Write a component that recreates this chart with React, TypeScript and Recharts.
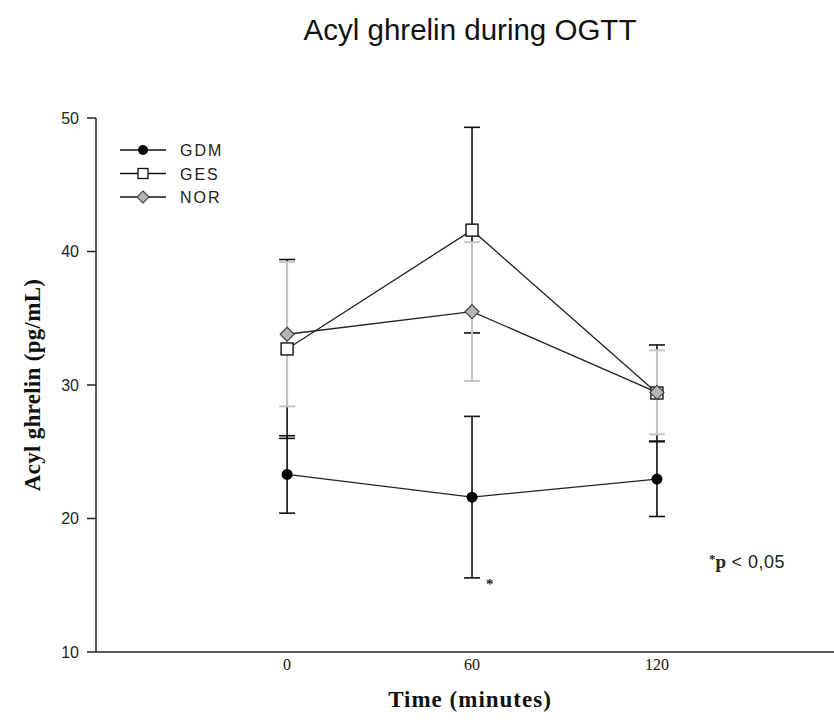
import React from "react";
import { ComposedChart, ErrorBar, Legend, Line, XAxis, YAxis } from "recharts";

const times = [0, 60, 120];
const gdmMean = [23.3, 21.6, 22.95];
const gdmErr = [2.9, 6.05, 2.8];
const gesMean = [32.7, 41.6, 29.4];
const gesErr = [6.7, 7.7, 3.6];
const norMean = [33.8, 35.5, 29.45];
const norErr = [5.4, 5.2, 3.15];
const xTicks = [0, 60, 120];
const yTicks = [10, 20, 30, 40, 50];
const groups = ["GDM", "GES", "NOR"];

const data = times.map((t, i) => ({
  t,
  gdm: gdmMean[i],
  gdmE: gdmErr[i],
  ges: gesMean[i],
  gesE: gesErr[i],
  nor: norMean[i],
  norE: norErr[i]
}));

const sans = "'Liberation Sans', Arial, sans-serif";
const serif = "'Liberation Serif', 'Times New Roman', serif";

function CircleDot(props: any) {
  const { cx, cy } = props;
  if (cx == null || cy == null) return null;
  return <circle key={props.key} cx={cx} cy={cy} r={5.5} fill="#000" />;
}

function SquareDot(props: any) {
  const { cx, cy } = props;
  if (cx == null || cy == null) return null;
  return <rect key={props.key} x={cx - 6} y={cy - 6} width={12} height={12} fill="#fff" stroke="#111" strokeWidth={1.4} />;
}

function DiamondDot(props: any) {
  const { cx, cy } = props;
  if (cx == null || cy == null) return null;
  const r = 7;
  return <polygon key={props.key} points={`${cx},${cy - r} ${cx + r},${cy} ${cx},${cy + r} ${cx - r},${cy}`} fill="#b5b5b5" stroke="#444" strokeWidth={1.2} />;
}

function LegendBox() {
  const marks = [
    (y: number) => <circle cx={23} cy={y} r={5} fill="#000" />,
    (y: number) => <rect x={18} y={y - 5} width={10} height={10} fill="#fff" stroke="#111" strokeWidth={1.3} />,
    (y: number) => <polygon points={`23,${y - 6} 29,${y} 23,${y + 6} 17,${y}`} fill="#b5b5b5" stroke="#444" strokeWidth={1.1} />
  ];
  return (
    <svg width={130} height={70}>
      {groups.map((g, i) => {
        const y = 10 + i * 23.5;
        return (
          <g key={g}>
            <line x1={0} x2={46} y1={y} y2={y} stroke="#111" strokeWidth={1.3} />
            {marks[i](y)}
            <text x={60} y={y + 6} fontFamily={sans} fontSize={16} letterSpacing={2} fill="#222">{g}</text>
          </g>
        );
      })}
    </svg>
  );
}

export default function App() {
  return (
    <div style={{ position: "absolute", left: 0, top: 0, width: 834, height: 724, overflow: "hidden", background: "#fff" }}>
      <div style={{ position: "absolute", left: 170, top: 13, width: 600, textAlign: "center", fontFamily: sans, fontSize: 29.5, color: "#111" }}>
        Acyl ghrelin during OGTT
      </div>
      <ComposedChart width={1000} height={724} data={data} margin={{ top: 118, right: 4, bottom: 32, left: 0 }}>
        <XAxis
          type="number"
          dataKey="t"
          domain={[-62, 230]}
          ticks={xTicks}
          allowDataOverflow
          tickLine={false}
          tickSize={0}
          tickMargin={7}
          height={40}
          axisLine={{ stroke: "#222", strokeWidth: 1.5 }}
          tick={{ fontFamily: serif, fontSize: 16, fill: "#111" }}
        />
        <XAxis
          xAxisId="top"
          orientation="top"
          type="number"
          dataKey="t"
          domain={[-62, 230]}
          allowDataOverflow
          tick={false}
          tickLine={false}
          height={0}
          axisLine={{ stroke: "#222", strokeWidth: 1.5 }}
        />
        <YAxis
          type="number"
          domain={[10, 50]}
          ticks={yTicks}
          width={96}
          tickSize={9}
          tickMargin={8}
          axisLine={{ stroke: "#222", strokeWidth: 1.5 }}
          tickLine={{ stroke: "#222", strokeWidth: 1.5 }}
          tick={{ fontFamily: sans, fontSize: 16, fill: "#222" }}
        />
        <Legend layout="vertical" align="center" verticalAlign="middle" content={() => <LegendBox />} wrapperStyle={{ left: 120, top: 140, width: 130, height: 70 }} />
        <Line dataKey="ges" stroke="none" dot={false} activeDot={false} legendType="none" isAnimationActive={false}>
          <ErrorBar dataKey="gesE" width={8} stroke="#111" strokeWidth={1.6} isAnimationActive={false} />
        </Line>
        <Line dataKey="nor" stroke="none" dot={false} activeDot={false} legendType="none" isAnimationActive={false}>
          <ErrorBar dataKey="norE" width={8} stroke="#c6c6c6" strokeWidth={2} isAnimationActive={false} />
        </Line>
        <Line dataKey="gdm" stroke="none" dot={false} activeDot={false} legendType="none" isAnimationActive={false}>
          <ErrorBar dataKey="gdmE" width={8} stroke="#111" strokeWidth={1.6} isAnimationActive={false} />
        </Line>
        <Line dataKey="gdm" name="GDM" stroke="#222" strokeWidth={1.3} dot={CircleDot} activeDot={false} isAnimationActive={false} />
        <Line dataKey="ges" name="GES" stroke="#222" strokeWidth={1.3} dot={SquareDot} activeDot={false} isAnimationActive={false} />
        <Line dataKey="nor" name="NOR" stroke="#222" strokeWidth={1.3} dot={DiamondDot} activeDot={false} isAnimationActive={false} />
      </ComposedChart>
      <div style={{ position: "absolute", left: 33, top: 385, transform: "translate(-50%, -50%) rotate(-90deg)", whiteSpace: "nowrap", fontFamily: serif, fontWeight: "bold", fontSize: 23, letterSpacing: 0.3, color: "#111" }}>
        Acyl ghrelin (pg/mL)
      </div>
      <div style={{ position: "absolute", left: 470, top: 700, transform: "translate(-50%, -50%)", whiteSpace: "nowrap", fontFamily: serif, fontWeight: "bold", fontSize: 23, letterSpacing: 1, color: "#111" }}>
        Time (minutes)
      </div>
      <div style={{ position: "absolute", left: 486, top: 576, fontFamily: serif, fontSize: 15, fontWeight: "bold", color: "#222" }}>*</div>
      <div style={{ position: "absolute", left: 709, top: 551, whiteSpace: "nowrap", color: "#222" }}>
        <span style={{ fontFamily: serif, fontSize: 13, fontWeight: "bold", verticalAlign: "top" }}>*</span>
        <span style={{ fontFamily: serif, fontSize: 19, fontWeight: "bold" }}>p</span>
        <span style={{ fontFamily: sans, fontSize: 18, letterSpacing: 0.5 }}> &lt; 0,05</span>
      </div>
    </div>
  );
}
